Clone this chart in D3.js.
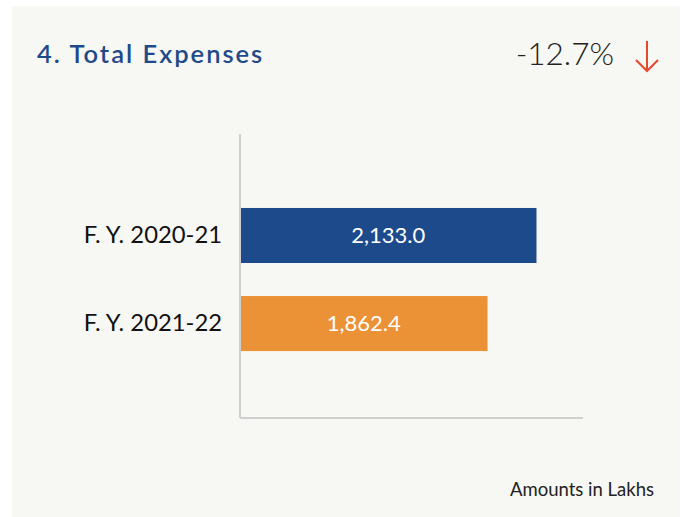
<!DOCTYPE html>
<html>
<head>
<meta charset="utf-8">
<script src="https://cdn.jsdelivr.net/npm/d3@7"></script>
<style>
  body { margin: 0; background: #fff; }
  text { font-family: Lato, sans-serif; }
</style>
</head>
<body>
<script>
var categories = ['F. Y. 2020-21', 'F. Y. 2021-22'],
    values = [2133.0, 1862.4],
    barColors = ['#1d4a8a', '#ec9236'],
    title = '4. Total Expenses',
    change = '-12.7%',
    note = 'Amounts in Lakhs',
    width = 684, height = 517, svg, x, y, fmt;

svg = d3.select('body').append('svg').attr('width', width).attr('height', height);

// card
svg.append('rect').attr('x', 12).attr('y', 6).attr('width', 668).attr('height', 520).attr('fill', '#f7f7f3');

x = d3.scaleLinear().domain([495, 2390]).range([240, 583]);
y = d3.scaleBand().domain(categories).range([134, 418]).paddingInner(0.375).paddingOuter(0.8).align(0.525);
fmt = d3.format(',.1f');

svg.append('text').attr('x', 37).attr('y', 63).attr('fill', '#1f4a8a')
   .style('font-size', '25.5px').style('font-weight', 600).style('letter-spacing', '2px').text(title);

svg.append('text').attr('x', 614).attr('y', 65).attr('text-anchor', 'end').attr('fill', '#222')
   .style('font-size', '31.5px').style('font-weight', 300).text(change);

// down arrow
svg.append('path').attr('d', 'M647,41 V71 M636,60 L647,71 L658,60')
   .attr('fill', 'none').attr('stroke', '#e8472e').attr('stroke-width', 2);

// bars
svg.selectAll('rect.bar').data(values).enter().append('rect').attr('class', 'bar')
   .attr('x', x(495))
   .attr('y', function (d, i) { return y(categories[i]); })
   .attr('width', function (d) { return x(d) - x(495); })
   .attr('height', y.bandwidth())
   .attr('fill', function (d, i) { return barColors[i]; });

svg.selectAll('text.val').data(values).enter().append('text').attr('class', 'val')
   .attr('x', function (d) { return (x(495) + x(d)) / 2; })
   .attr('y', function (d, i) { return y(categories[i]) + y.bandwidth() / 2; })
   .attr('dy', '0.35em').attr('text-anchor', 'middle').attr('fill', '#fff')
   .style('font-size', '22px').text(function (d) { return fmt(d); });

// axes
var yAxis = svg.append('g').attr('transform', 'translate(240,0)').call(d3.axisLeft(y).tickSize(0).tickPadding(18));
yAxis.select('.domain').remove();
yAxis.selectAll('text').attr('fill', '#111').style('font-size', '23.8px').style('font-family', 'Lato, sans-serif');

svg.append('line').attr('x1', 240).attr('x2', 240).attr('y1', y.range()[0]).attr('y2', y.range()[1])
   .attr('stroke', '#cfcfcf').attr('stroke-width', 2);
svg.append('line').attr('x1', x.range()[0]).attr('x2', x.range()[1]).attr('y1', y.range()[1]).attr('y2', y.range()[1])
   .attr('stroke', '#cfcfcf').attr('stroke-width', 2);

svg.append('text').attr('x', 654).attr('y', 496).attr('text-anchor', 'end').attr('fill', '#222')
   .style('font-size', '18.5px').text(note);
</script>
</body>
</html>
